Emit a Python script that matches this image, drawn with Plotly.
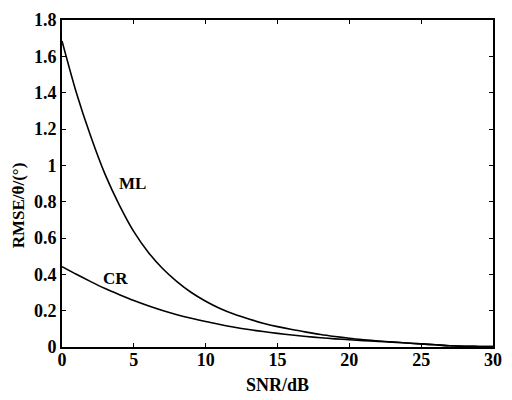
import plotly.graph_objects as go

snr = list(range(0, 31))
ml = [1.685, 1.40, 1.16, 0.95, 0.78, 0.635, 0.522, 0.432, 0.36, 0.30, 0.252,
      0.212, 0.18, 0.154, 0.131, 0.112, 0.096, 0.082, 0.069, 0.058, 0.048,
      0.040, 0.033, 0.027, 0.022, 0.017, 0.012, 0.007, 0.004, 0.003, 0.002]
cr = [0.442, 0.40, 0.36, 0.322, 0.288, 0.256, 0.227, 0.201, 0.178, 0.158, 0.14,
      0.124, 0.109, 0.096, 0.085, 0.075, 0.066, 0.058, 0.051, 0.045, 0.04,
      0.035, 0.031, 0.027, 0.022, 0.017, 0.012, 0.007, 0.004, 0.003, 0.002]
x_ticks = [0, 5, 10, 15, 20, 25, 30]
y_ticks = [0, 0.2, 0.4, 0.6, 0.8, 1, 1.2, 1.4, 1.6, 1.8]
y_tick_text = ["0", "0.2", "0.4", "0.6", "0.8", "1", "1.2", "1.4", "1.6", "1.8"]

FONT = "Liberation Serif"
W, H = 512, 400
ML_, MR, MT, MB = 62, 10, 10, 53
PW, PH = W - ML_ - MR, H - MT - MB

fig = go.Figure()
fig.add_trace(go.Scatter(x=snr, y=ml, mode="lines",
                         line=dict(color="black", width=1.6, shape="spline", smoothing=0.8), name="ML"))
fig.add_trace(go.Scatter(x=snr, y=cr, mode="lines",
                         line=dict(color="black", width=1.6, shape="spline", smoothing=0.8), name="CR"))

fig.add_annotation(x=4.9, y=0.9, text="<b>ML</b>", showarrow=False,
                   font=dict(family=FONT, size=17, color="black"))
fig.add_annotation(x=3.7, y=0.375, text="<b>CR</b>", showarrow=False,
                   font=dict(family=FONT, size=17, color="black"))
fig.add_annotation(x=(17 - ML_) / PW, y=(H - MB - 201) / PH, xref="paper", yref="paper",
                   text="<b>RMSE/θ/(°)</b>", showarrow=False, textangle=-90,
                   xanchor="center", yanchor="middle",
                   font=dict(family=FONT, size=17, color="black"))
fig.add_annotation(x=(282 - ML_) / PW, y=(H - MB - 386) / PH, xref="paper", yref="paper",
                   text="<b>SNR/dB</b>", showarrow=False,
                   xanchor="center", yanchor="middle",
                   font=dict(family=FONT, size=18, color="black"))

axis_common = dict(showline=True, linecolor="black", linewidth=2, mirror="ticks",
                   ticks="inside", ticklen=4, tickcolor="black", tickwidth=1,
                   showgrid=False, zeroline=False,
                   tickfont=dict(family=FONT, size=18, color="black"))

fig.update_layout(
    width=W, height=H,
    margin=dict(l=ML_, r=MR, t=MT, b=MB),
    paper_bgcolor="white", plot_bgcolor="white",
    showlegend=False,
    xaxis=dict(range=[0, 30], tickvals=x_ticks, ticktext=["<b>%d</b>" % v for v in x_ticks],
               ticklabelstandoff=-5, **axis_common),
    yaxis=dict(range=[0, 1.8], tickvals=y_ticks, ticktext=["<b>%s</b>" % t for t in y_tick_text],
               **axis_common),
)

fig.write_html("out.html", config={"displayModeBar": False},
               post_script="document.body.style.margin='0';document.body.style.overflow='hidden';")
